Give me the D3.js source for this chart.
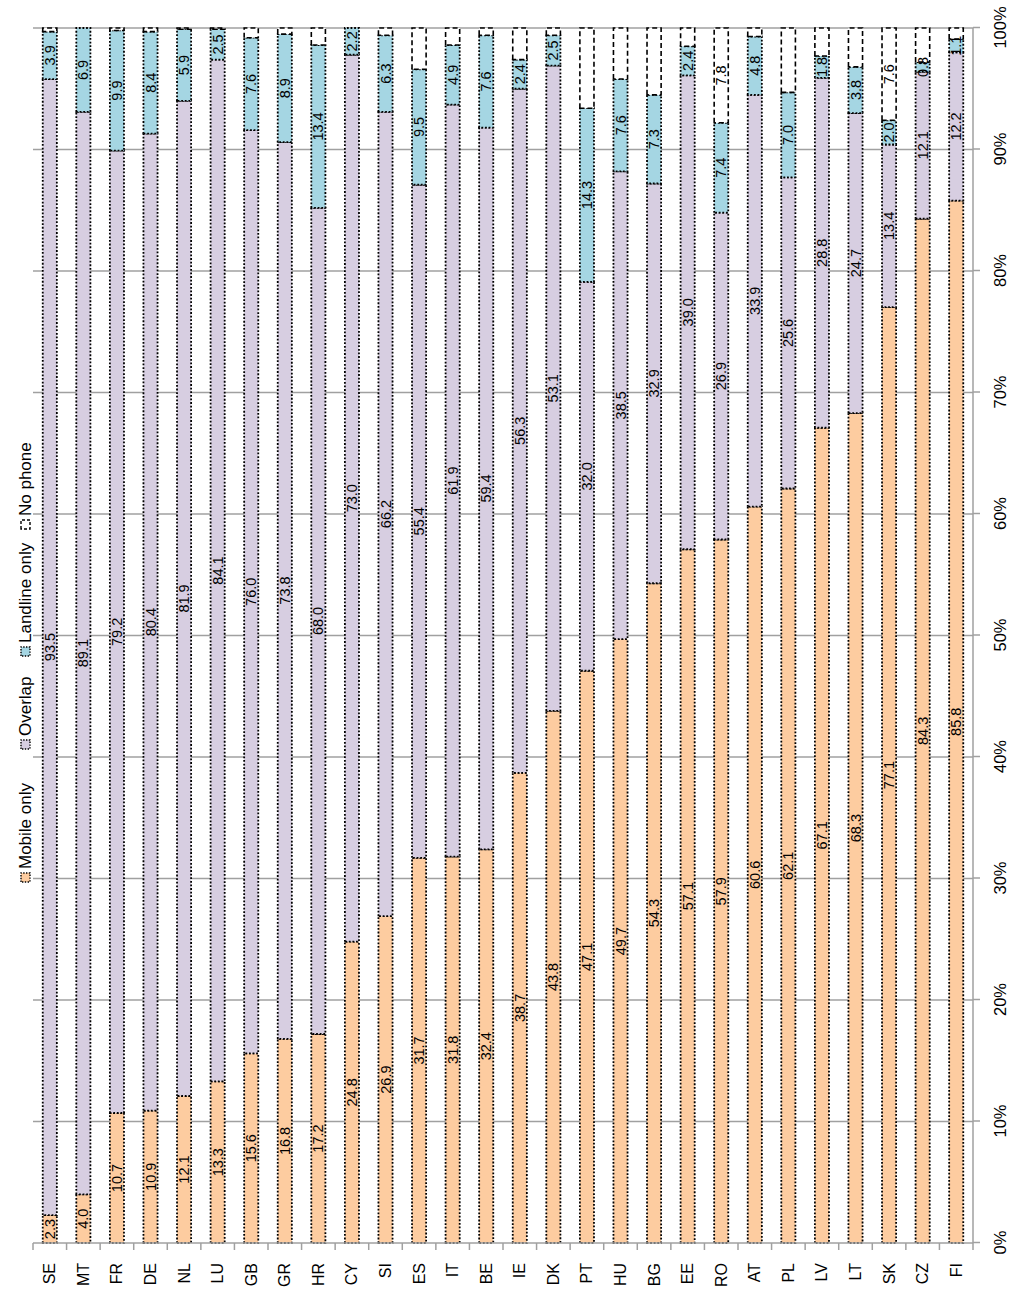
<!DOCTYPE html>
<html>
<head>
<meta charset="utf-8">
<script src="https://cdn.jsdelivr.net/npm/d3@7"></script>
<style>
  html, body { margin: 0; padding: 0; background: #fff; }
  svg { display: block; font-family: "Liberation Sans", Arial, sans-serif; }
</style>
</head>
<body>
<svg id="chart" width="1017" height="1298"></svg>
<script>
const countries = ["SE","MT","FR","DE","NL","LU","GB","GR","HR","CY","SI","ES","IT","BE","IE","DK","PT","HU","BG","EE","RO","AT","PL","LV","LT","SK","CZ","FI"];
const mobileOnly   = [2.3,4.0,10.7,10.9,12.1,13.3,15.6,16.8,17.2,24.8,26.9,31.7,31.8,32.4,38.7,43.8,47.1,49.7,54.3,57.1,57.9,60.6,62.1,67.1,68.3,77.1,84.3,85.8];
const overlap      = [93.5,89.1,79.2,80.4,81.9,84.1,76.0,73.8,68.0,73.0,66.2,55.4,61.9,59.4,56.3,53.1,32.0,38.5,32.9,39.0,26.9,33.9,25.6,28.8,24.7,13.4,12.1,12.2];
const landlineOnly = [3.9,6.9,9.9,8.4,5.9,2.5,7.6,8.9,13.4,2.2,6.3,9.5,4.9,7.6,2.4,2.5,14.3,7.6,7.3,2.4,7.4,4.8,7.0,1.8,3.8,2.0,0.8,1.1];
const noPhone      = [0.3,0.0,0.2,0.3,0.1,0.1,0.8,0.5,1.4,0.0,0.6,3.4,1.4,0.6,2.6,0.6,6.6,4.2,5.5,1.5,7.8,0.7,5.3,2.3,3.2,7.6,2.8,0.9];
// which "No phone" values carry a data label in the original
const noPhoneLabelled = ["RO","SK"];
const seriesNames = ["Mobile only","Overlap","Landline only","No phone"];
const percentTicks = [0,10,20,30,40,50,60,70,80,90,100];

const colors = ["#FDCCA0","#D7CEE1","#A5D6E3","#FFFFFF"];
const dashes = ["1.8,1.8","1.8,1.8","1.8,1.8","5,3"];

const table = countries.map((c,i) => ({
  country: c,
  "Mobile only": mobileOnly[i],
  "Overlap": overlap[i],
  "Landline only": landlineOnly[i],
  "No phone": noPhone[i]
}));
// 100% stacking: normalise each row
const normTable = table.map(r => {
  const tot = seriesNames.reduce((s,k) => s + r[k], 0);
  const o = {country: r.country};
  seriesNames.forEach(k => o[k] = r[k] / tot * 100);
  return o;
});
const stacked = d3.stack().keys(seriesNames)(normTable);

const svg = d3.select("#chart");
// Chart built in landscape coordinates and rotated -90deg
const root = svg.append("g").attr("transform", "translate(0,1298) rotate(-90)");

const x = d3.scaleLinear().domain([0,100]).range([55,1270]);
const y = d3.scaleBand().domain(countries).range([33,973]).paddingInner(0.58).paddingOuter(0.29);
const step = y.step();

// gridlines
root.append("g").selectAll("line").data(percentTicks.filter(t => t > 0)).join("line")
  .attr("x1", d => x(d)).attr("x2", d => x(d))
  .attr("y1", 33).attr("y2", 973)
  .attr("stroke", "#A0A0A0").attr("stroke-width", 1.5);

// bars
const layers = root.append("g").selectAll("g").data(stacked).join("g");
layers.each(function(layer, li) {
  d3.select(this).selectAll("rect").data(layer).join("rect")
    .attr("x", d => x(d[0]))
    .attr("width", d => Math.max(0, x(d[1]) - x(d[0])))
    .attr("y", d => y(d.data.country))
    .attr("height", y.bandwidth())
    .attr("fill", colors[li])
    .attr("stroke", "#000")
    .attr("stroke-width", li === 3 ? 1.6 : 1.8)
    .attr("stroke-dasharray", dashes[li]);
});

// data labels
const lblG = root.append("g").attr("font-size", 14.5).attr("fill", "#000");
stacked.forEach((layer, li) => {
  const key = seriesNames[li];
  layer.forEach((d, i) => {
    const raw = table[i][key];
    if (key === "No phone" && !noPhoneLabelled.includes(d.data.country)) return;
    lblG.append("text")
      .attr("x", x((d[0] + d[1]) / 2))
      .attr("y", y(d.data.country) + y.bandwidth() / 2)
      .attr("text-anchor", "middle")
      .attr("dominant-baseline", "central")
      .text(d3.format(".1f")(raw));
  });
});

// percent axis (bottom in landscape)
const pAxis = root.append("g").attr("transform", "translate(0,973)")
  .call(d3.axisBottom(x).tickValues(percentTicks).tickFormat(d => d + "%").tickSize(7).tickPadding(14));
pAxis.select(".domain").remove();
pAxis.selectAll(".tick line").attr("stroke", "#A0A0A0").attr("stroke-width", 1.5);
pAxis.selectAll(".tick text").attr("font-size", 16.5).attr("fill", "#000").attr("font-family", "Liberation Sans, Arial, sans-serif");
root.append("line").attr("x1", 55).attr("x2", 1270).attr("y1", 973).attr("y2", 973)
  .attr("stroke", "#A0A0A0").attr("stroke-width", 1.5);

// category axis (left in landscape)
root.append("line").attr("x1", 55).attr("x2", 55).attr("y1", 33).attr("y2", 973)
  .attr("stroke", "#A0A0A0").attr("stroke-width", 1.5);
root.append("g").selectAll("line").data(d3.range(countries.length + 1)).join("line")
  .attr("x1", 55).attr("x2", 48)
  .attr("y1", d => 33 + d * step).attr("y2", d => 33 + d * step)
  .attr("stroke", "#A0A0A0").attr("stroke-width", 1.5);
root.append("g").selectAll("text").data(countries).join("text")
  .attr("x", 35)
  .attr("y", d => y(d) + y.bandwidth() / 2)
  .attr("text-anchor", "end")
  .attr("dominant-baseline", "central")
  .attr("font-size", 16)
  .text(d => d);

// legend (top in landscape)
const legendX = [420, 553, 646, 773];
const lg = root.append("g");
seriesNames.forEach((name, i) => {
  lg.append("rect")
    .attr("x", legendX[i] - 4).attr("y", 21).attr("width", 9).attr("height", 9)
    .attr("fill", colors[i]).attr("stroke", "#000").attr("stroke-width", 1.4)
    .attr("stroke-dasharray", i === 3 ? "3,2" : "1.4,1.4");
  lg.append("text")
    .attr("x", legendX[i] + 9).attr("y", 25.5)
    .attr("dominant-baseline", "central")
    .attr("font-size", 17)
    .text(name);
});
</script>
</body>
</html>
